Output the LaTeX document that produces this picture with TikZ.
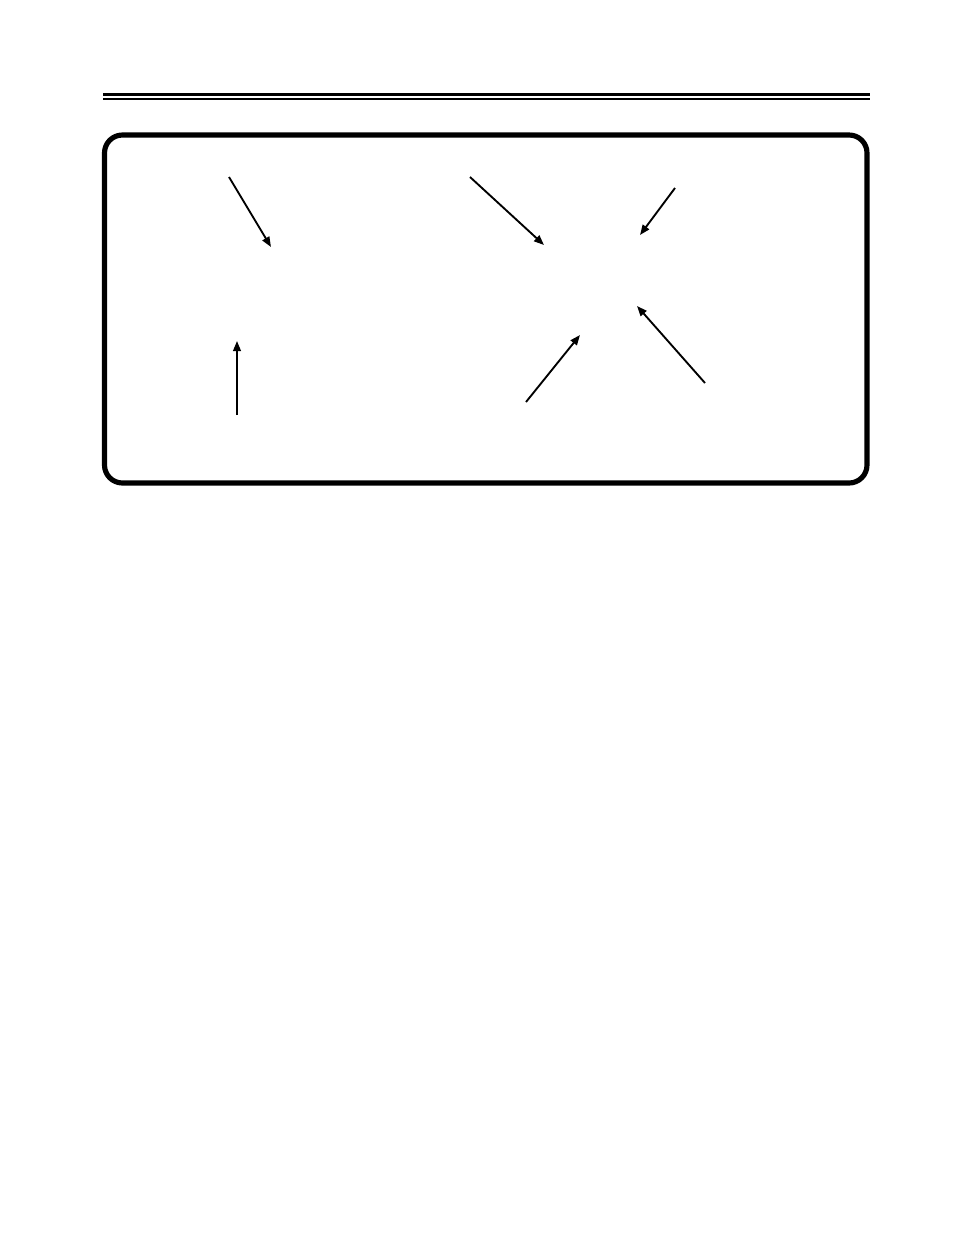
\documentclass[tikz,border=0pt]{standalone}
\usetikzlibrary{arrows.meta}
\begin{document}
\begin{tikzpicture}[x=0.6415pt,y=-0.6415pt,
  rule/.style={line cap=butt},
  frame/.style={line width=3.3pt,rounded corners=11.5pt},
  pointer/.style={line width=1.2pt,-{Triangle[length=6.5pt,width=5pt]}}]
\useasboundingbox[fill=white] (0,0) rectangle (954,1235);
% header rules
\draw[rule,line width=2pt] (103,94.5) -- (870,94.5);
\draw[rule,line width=1.3pt] (103,99.3) -- (870,99.3);
% frame
\draw[frame] (104.5,135) rectangle (867,483);
% arrow end points
\coordinate (a1s) at (229,177); \coordinate (a1e) at (271,247);
\coordinate (a2s) at (470,177); \coordinate (a2e) at (544,245);
\coordinate (a3s) at (675,188); \coordinate (a3e) at (640,235);
\coordinate (a4s) at (526,402); \coordinate (a4e) at (580,335);
\coordinate (a5s) at (705,383); \coordinate (a5e) at (637,306);
\coordinate (a6s) at (237,415); \coordinate (a6e) at (237,341);
\draw[pointer] (a1s) -- (a1e);
\draw[pointer] (a2s) -- (a2e);
\draw[pointer] (a3s) -- (a3e);
\draw[pointer] (a4s) -- (a4e);
\draw[pointer] (a5s) -- (a5e);
\draw[pointer] (a6s) -- (a6e);
\end{tikzpicture}
\end{document}
